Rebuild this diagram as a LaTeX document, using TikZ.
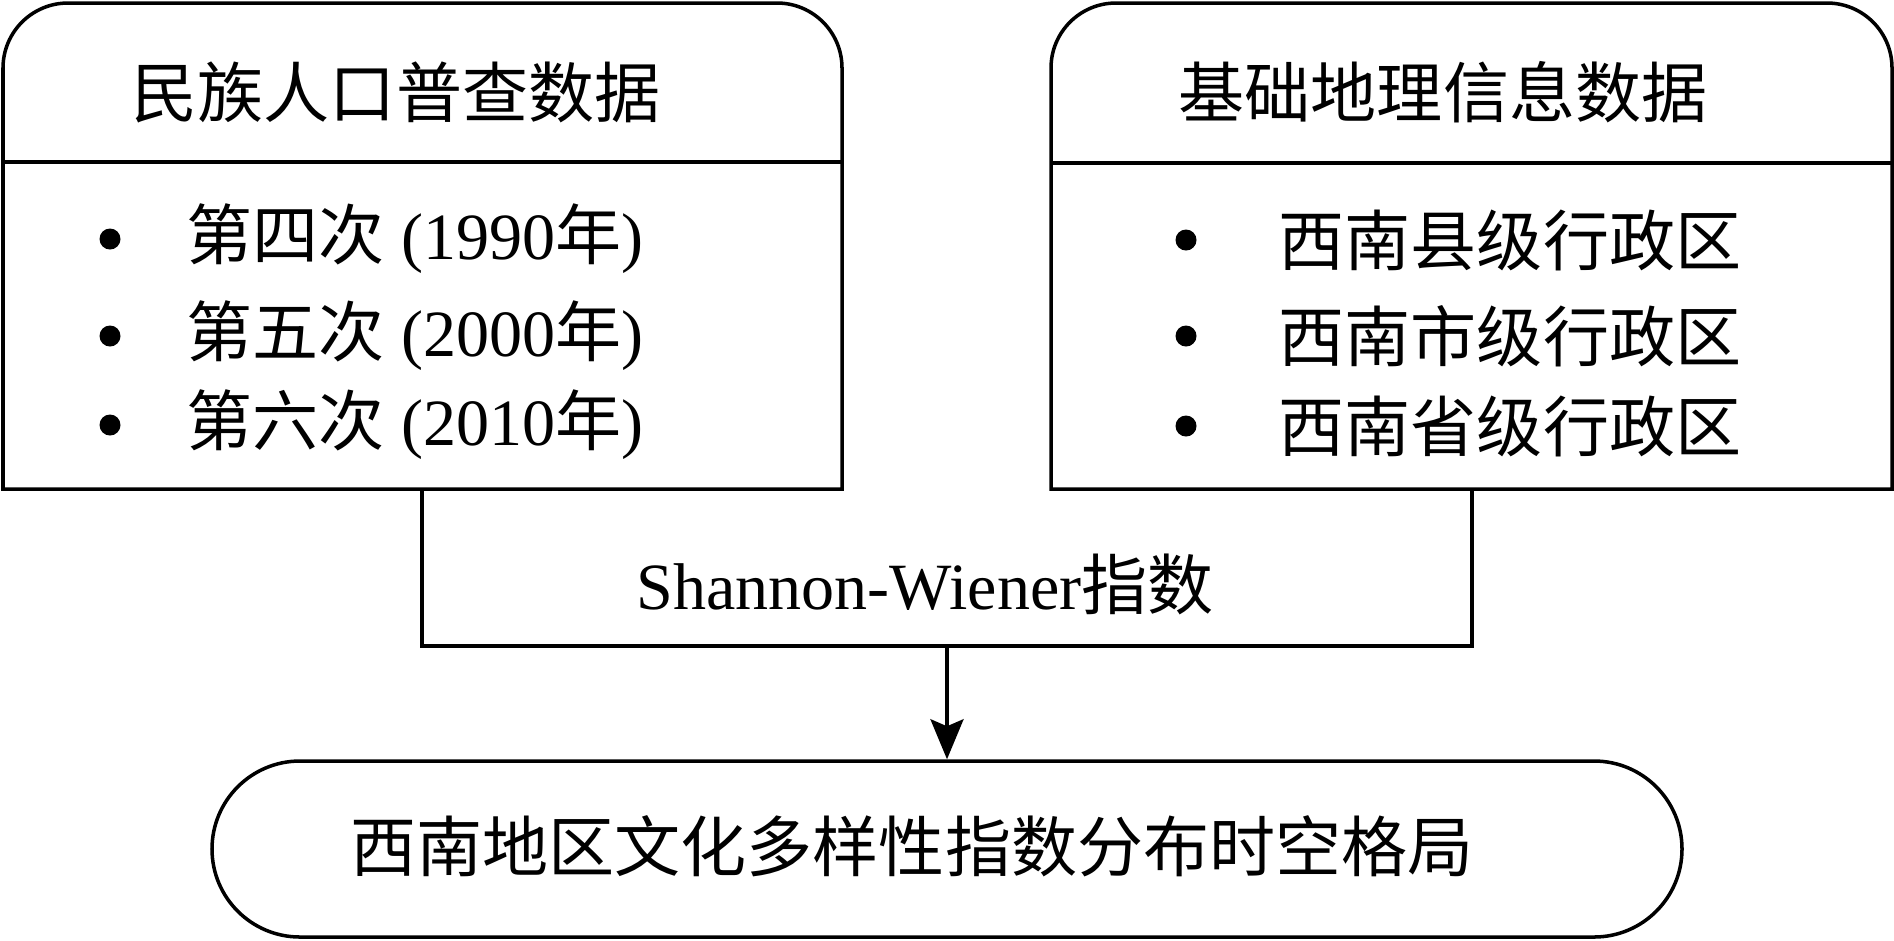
\documentclass[tikz,border=0pt]{standalone}
\usepackage{fontspec}
\setmainfont{Liberation Serif}
\newfontfamily\zh{Noto Sans CJK SC}
\usetikzlibrary{arrows.meta}

\tikzset{
  frame/.style={line width=1pt},
  txt/.style={inner sep=0pt, font=\fontsize{18.8}{22}\selectfont},
  item/.style={txt, anchor=west},
  dot/.style={circle, fill, inner sep=0pt, minimum size=0.21cm},
}

\begin{document}
\begin{tikzpicture}
\useasboundingbox (0,0) rectangle (18.94,-9.40);
% census data
\draw[frame] (0.03,-4.89) -- (0.03,-0.68) arc[start angle=180,end angle=90,radius=0.65]
  -- (7.77,-0.03) arc[start angle=90,end angle=0,radius=0.65] -- (8.42,-4.89) -- cycle;
\draw[frame] (0.03,-1.62) -- (8.42,-1.62);
\node[txt] (census) at (3.96,-0.92) {\zh 民族人口普查数据};
\foreach \yy/\yr/\ord [count=\i] in {2.39/1990/四, 3.36/2000/五, 4.25/2010/六}{
  \node[dot] (cb\i) at (1.10,-\yy) {};
  \node[item] (ci\i) at (1.86,-\yy) {{\zh 第\ord 次} (\yr{\zh 年})};
}
% geographic data
\draw[frame] (10.51,-4.89) -- (10.51,-0.68) arc[start angle=180,end angle=90,radius=0.65]
  -- (18.27,-0.03) arc[start angle=90,end angle=0,radius=0.65] -- (18.92,-4.89) -- cycle;
\draw[frame] (10.51,-1.63) -- (18.92,-1.63);
\node[txt] (geo) at (14.43,-0.92) {\zh 基础地理信息数据};
\foreach \yy/\lvl [count=\i] in {2.40/县, 3.36/市, 4.26/省}{
  \node[dot] (gb\i) at (11.86,-\yy) {};
  \node[item] (gi\i) at (12.78,-\yy) {\zh 西南\lvl 级行政区};
}
% index
\draw[frame] (4.22,-4.89) -- (4.22,-6.46) -- (14.72,-6.46) -- (14.72,-4.89);
\node[txt] (swi) at (9.25,-5.84) {Shannon-Wiener{\zh 指数}};
\coordinate (swibot) at (9.47,-6.46);
% result
\node[frame, draw, rounded corners=0.88cm, minimum width=14.70cm, minimum height=1.76cm] (res) at (9.47,-8.49) {};
\node[txt] (restxt) at (9.12,-8.46) {\zh 西南地区文化多样性指数分布时空格局};
\draw[frame, -{Stealth[length=0.4cm,width=0.33cm,inset=0.07cm]}] (swibot) -- (res.north);
\end{tikzpicture}
\end{document}
